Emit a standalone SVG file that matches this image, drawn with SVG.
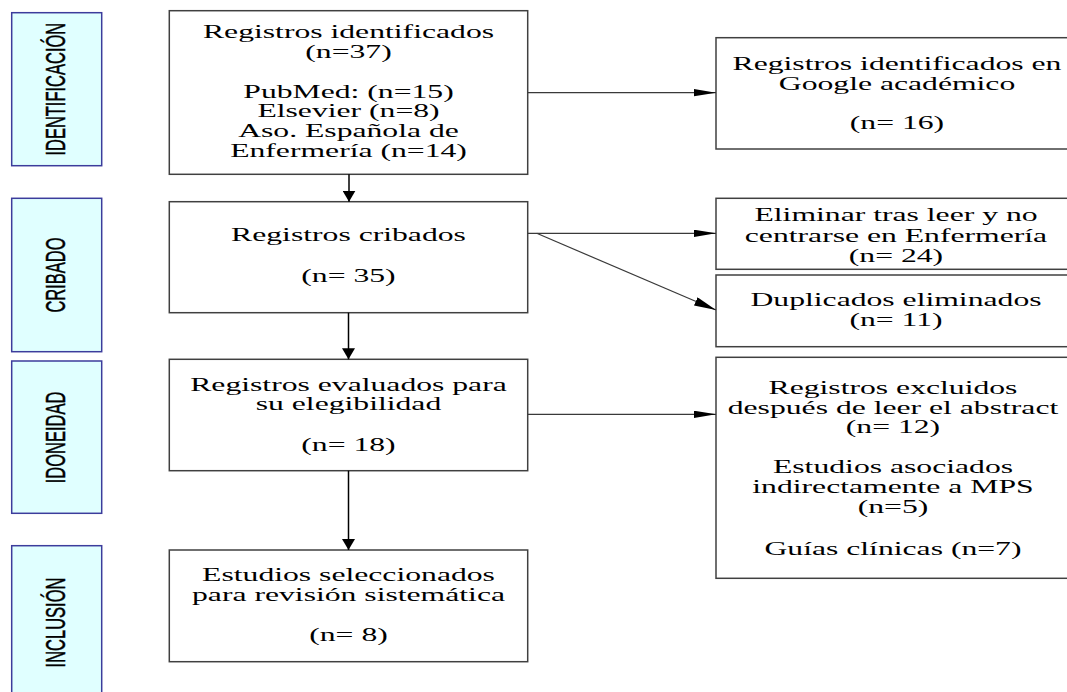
<svg xmlns="http://www.w3.org/2000/svg" width="1067" height="692" viewBox="0 0 1067 692">
<style>
.phase{fill:#e0ffff;stroke:#3c3c9c;stroke-width:1.5}
.ptxt{font-family:"Liberation Sans",Arial,sans-serif;font-size:27.5px;fill:#000;stroke:#000;stroke-width:0.5;text-anchor:middle}
.box{fill:#fff;stroke:#404040;stroke-width:1.5}
.t{font-family:"Liberation Serif","Times New Roman",serif;font-size:18px;fill:#000;text-anchor:middle}
.conn{fill:none;stroke:#3a3a3a;stroke-width:1.2}
.vconn{fill:none;stroke:#000;stroke-width:1.5}
</style>
<defs>
<marker id="hh" markerUnits="userSpaceOnUse" markerWidth="22" markerHeight="8" refX="22" refY="3.6" orient="auto"><path d="M0,0 L22,3.6 L0,7.2 z" fill="#000"/></marker>
<marker id="dh" markerUnits="userSpaceOnUse" markerWidth="22" markerHeight="10" refX="22" refY="4.5" orient="auto"><path d="M0,0 L22,4.5 L0,9 z" fill="#000"/></marker>
<marker id="vh" markerUnits="userSpaceOnUse" markerWidth="11" markerHeight="13" refX="11" refY="6.5" orient="auto"><path d="M0,0 L11,6.5 L0,13 z" fill="#000"/></marker>
</defs>
<rect width="1067" height="692" fill="#fff"/>

<g id="phase-identificacion">
<rect class="phase" x="11.7" y="12.7" width="90" height="153"/>
<text class="ptxt" transform="translate(65 89.2) rotate(-90) scale(0.6 1)">IDENTIFICACIÓN</text>
</g>
<g id="phase-cribado">
<rect class="phase" x="11.7" y="198.3" width="90" height="153.4"/>
<text class="ptxt" transform="translate(65 275) rotate(-90) scale(0.6 1)">CRIBADO</text>
</g>
<g id="phase-idoneidad">
<rect class="phase" x="11.7" y="361" width="90" height="152.3"/>
<text class="ptxt" transform="translate(65 437.5) rotate(-90) scale(0.6 1)">IDONEIDAD</text>
</g>
<g id="phase-inclusion">
<rect class="phase" x="11.7" y="545.7" width="90" height="153"/>
<text class="ptxt" transform="translate(65 622.5) rotate(-90) scale(0.6 1)">INCLUSIÓN</text>
</g>

<g id="identificados">
<rect class="box" x="169.3" y="10.7" width="358.4" height="163.6"/>
<g class="t" transform="translate(348.5 0) scale(1.76 1)">
<text x="0" y="38.5">Registros identificados</text>
<text x="0" y="58.2">(n=37)</text>
<text x="0" y="97.6">PubMed: (n=15)</text>
<text x="0" y="117.3">Elsevier (n=8)</text>
<text x="0" y="137">Aso. Española de</text>
<text x="0" y="156.7">Enfermería (n=14)</text>
</g>
</g>
<g id="cribados">
<rect class="box" x="169.3" y="201.7" width="358.4" height="111"/>
<g class="t" transform="translate(348.5 0) scale(1.76 1)">
<text x="0" y="241.5">Registros cribados</text>
<text x="0" y="282">(n= 35)</text>
</g>
</g>
<g id="evaluados">
<rect class="box" x="169.3" y="359.3" width="358.4" height="111.4"/>
<g class="t" transform="translate(348.5 0) scale(1.76 1)">
<text x="0" y="390.7">Registros evaluados para</text>
<text x="0" y="410.4">su elegibilidad</text>
<text x="0" y="451">(n= 18)</text>
</g>
</g>
<g id="seleccionados">
<rect class="box" x="169.3" y="550" width="358.4" height="111.7"/>
<g class="t" transform="translate(348.5 0) scale(1.76 1)">
<text x="0" y="581.2">Estudios seleccionados</text>
<text x="0" y="600.9">para revisión sistemática</text>
<text x="0" y="641">(n= 8)</text>
</g>
</g>

<g id="google">
<rect class="box" x="716" y="37.7" width="370" height="111.3"/>
<g class="t" transform="translate(897 0) scale(1.76 1)">
<text x="0" y="70">Registros identificados en</text>
<text x="0" y="89.7">Google académico</text>
<text x="0" y="129">(n= 16)</text>
</g>
</g>
<g id="eliminar">
<rect class="box" x="716" y="198.3" width="370" height="71"/>
<g class="t" transform="translate(896 0) scale(1.76 1)">
<text x="0" y="221.5">Eliminar tras leer y no</text>
<text x="0" y="242">centrarse en Enfermería</text>
<text x="0" y="262">(n= 24)</text>
</g>
</g>
<g id="duplicados">
<rect class="box" x="716" y="275" width="370" height="71.7"/>
<g class="t" transform="translate(896 0) scale(1.76 1)">
<text x="0" y="306">Duplicados eliminados</text>
<text x="0" y="326">(n= 11)</text>
</g>
</g>
<g id="excluidos">
<rect class="box" x="716" y="357.3" width="370" height="221"/>
<g class="t" transform="translate(893 0) scale(1.76 1)">
<text x="0" y="394">Registros excluidos</text>
<text x="0" y="414">después de leer el abstract</text>
<text x="0" y="433.5">(n= 12)</text>
<text x="0" y="473.5">Estudios asociados</text>
<text x="0" y="493.3">indirectamente a MPS</text>
<text x="0" y="513">(n=5)</text>
<text x="0" y="554.6">Guías clínicas (n=7)</text>
</g>
</g>

<g id="connectors">
<path class="vconn" d="M349,174.3 V201.7" marker-end="url(#vh)"/>
<path class="vconn" d="M348.5,312.7 V359.3" marker-end="url(#vh)"/>
<path class="vconn" d="M348.5,470.7 V550" marker-end="url(#vh)"/>
<path class="conn" d="M527.7,92.7 H716" marker-end="url(#hh)"/>
<path class="conn" d="M527.7,233.3 H716" marker-end="url(#hh)"/>
<path class="conn" d="M536.7,233.3 L716,310" marker-end="url(#dh)"/>
<path class="conn" d="M527.7,414.3 H716" marker-end="url(#hh)"/>
</g>
</svg>
